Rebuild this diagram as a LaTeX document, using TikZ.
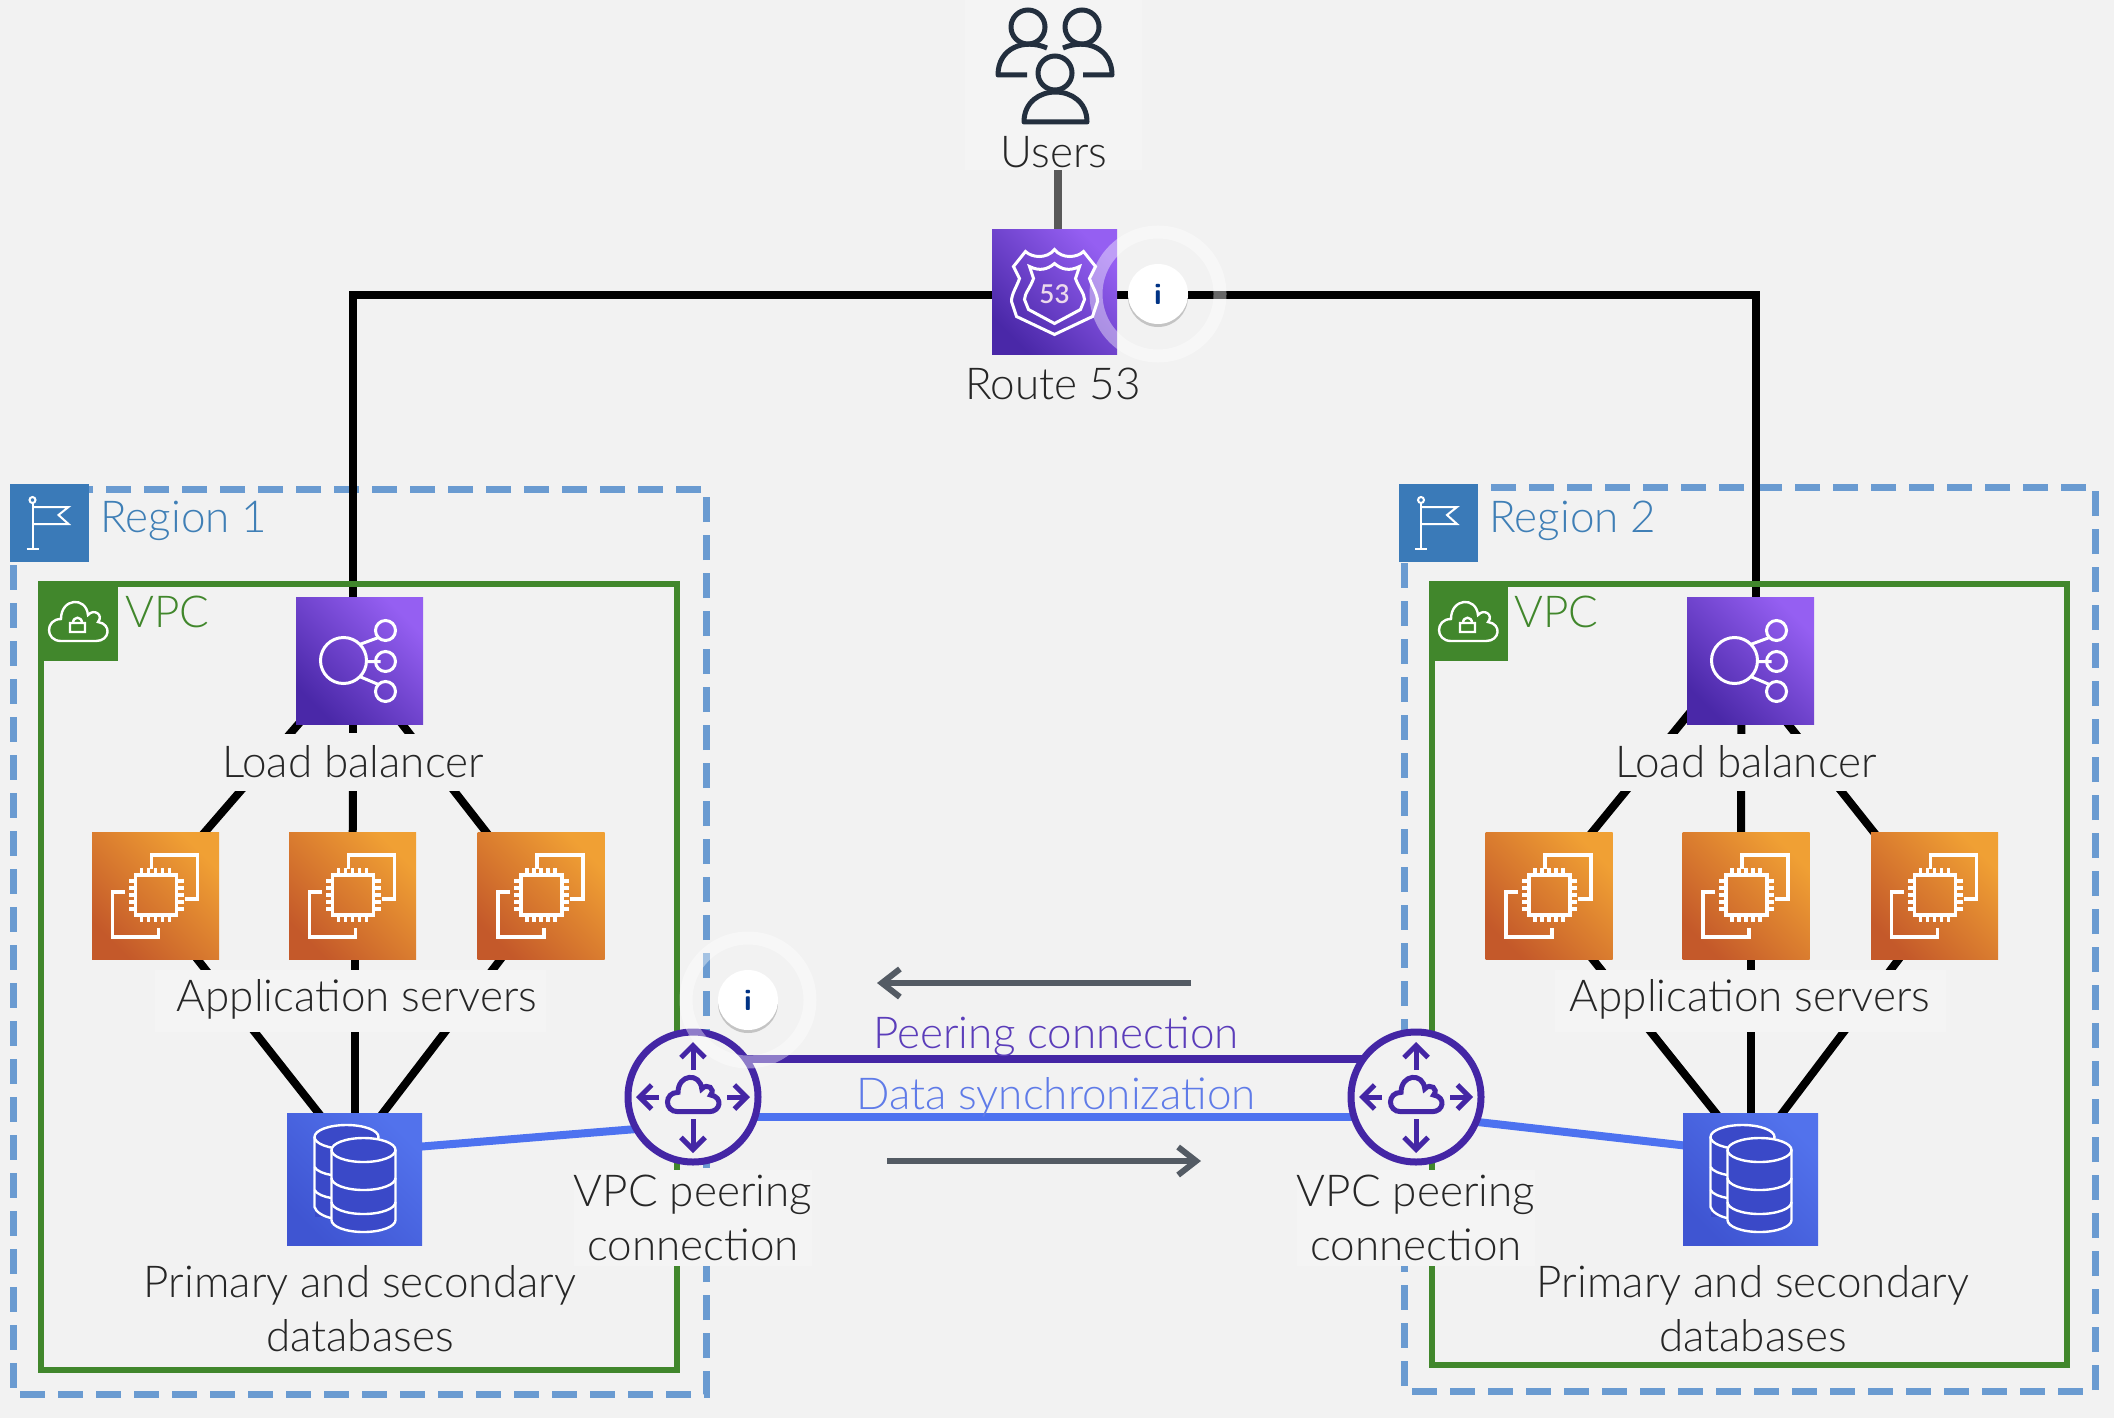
\documentclass[tikz,border=0pt]{standalone}
\usepackage{fontspec}
\setmainfont{Lato Light}
\usetikzlibrary{arrows.meta,backgrounds,shadows}

\definecolor{pagebg}{HTML}{F2F2F2}
\definecolor{labelbg}{HTML}{F4F4F4}
\definecolor{regionc}{HTML}{6A9BD1}
\definecolor{regiontag}{HTML}{3A7AB8}
\definecolor{regiontxt}{HTML}{3F7FB6}
\definecolor{vpcc}{HTML}{41872C}
\definecolor{peerc}{HTML}{4426A5}
\definecolor{peertxt}{HTML}{5B3DBA}
\definecolor{datac}{HTML}{4D72F0}
\definecolor{datatxt}{HTML}{5F7BE8}
\definecolor{arrowc}{HTML}{545B64}
\definecolor{usersc}{HTML}{232F3E}
\definecolor{purpledark}{HTML}{4A28A8}
\definecolor{purplelight}{HTML}{955FF2}
\definecolor{srvdark}{HTML}{C4592A}
\definecolor{srvlight}{HTML}{F0A034}
\definecolor{dbdark}{HTML}{3F55D2}
\definecolor{dblight}{HTML}{5272EC}
\definecolor{dbinner}{HTML}{3A49C8}

\tikzset{
  lbl/.style={font=\fontsize{22}{27}\selectfont,align=center,inner sep=0pt,text=black!85},
  lblbg/.style={lbl,fill=pagebg,minimum height=28.5pt},
  purplebox/.style={top color=purplelight,bottom color=purpledark,shading angle=-45,minimum size=63.5pt,inner sep=0pt},
  srvbox/.style={top color=srvlight,bottom color=srvdark,shading angle=-45,minimum size=63.5pt,inner sep=0pt},
  dbbox/.style={top color=dblight,bottom color=dbdark,shading angle=-45,minimum width=67.5pt,minimum height=66pt,inner sep=0pt},
  tagbox/.style={minimum width=39.5pt,minimum height=39pt,inner sep=0pt},
  peernode/.style={circle,draw=peerc,line width=3.5pt,fill=pagebg,minimum size=65pt,inner sep=0pt},
  infonode/.style={circle,fill=white,minimum size=30pt,inner sep=0pt,font=\sffamily\bfseries\fontsize{15}{15}\selectfont,text=blue!40!black!80!cyan,drop shadow={shadow xshift=0pt,shadow yshift=-1.5pt,opacity=.4}},
  inforing/.style={draw=white,opacity=.4,line width=6.5pt},
  wire/.style={black,line width=4pt},
  regionline/.style={draw=regionc,line width=3.5pt,dash pattern=on 12.5pt off 6.5pt},
  vpcline/.style={draw=vpcc,line width=3pt},
  flowarrow/.style={draw=arrowc,line width=3pt,-{Straight Barb[length=9pt,width=14pt,line width=3pt]}},
  peerarrow/.style={draw=peerc,line width=2.5pt,-{Straight Barb[length=6pt,width=12pt,line width=2.5pt]}},
  iconline/.style={draw=white,line width=1.5pt},
  dbline/.style={iconline,line width=1.2pt},
  flagicon/.pic={
    \draw[iconline,line width=1pt] (-17,-20) -- (-17,26) (-23,26) -- (-11,26);
    \draw[iconline,line width=1pt] (-17,-23) circle[radius=3];
    \draw[iconline,line width=1pt] (-17,-16) -- (19,-16) -- (9,-8) -- (19,1) -- (-17,1);
  },
  cloudicon/.pic={
    \draw[pic actions] (-17,19) .. controls (-33,19) and (-33,-3) .. (-17,-3)
      .. controls (-17,-24) and (8,-26) .. (10,-7) .. controls (16,-14) and (26,-7) .. (20,0)
      .. controls (34,2) and (32,19) .. (18,19) -- cycle;
  },
  vpcicon/.pic={
    \pic[draw=white,line width=1.2pt] {cloudicon};
    \draw[iconline,line width=1.2pt] (-8,1) rectangle (7,10) (-5,1) .. controls (-5,-6) and (4,-6) .. (4,1);
  },
  routeicon/.pic={
    \draw[iconline] (-29,-40) .. controls (-23,-34) and (-8,-32) .. (0,-42) .. controls (8,-32) and (23,-34) .. (29,-40)
      -- (41,-25) -- (35,-13) .. controls (38,-4) and (43,2) .. (43,10) -- (38,25) -- (0,43) -- (-38,25) -- (-43,10)
      .. controls (-43,2) and (-38,-4) .. (-35,-13) -- (-41,-25) -- cycle;
    \draw[iconline] (-25,-25) .. controls (-15,-20) and (-7,-22) .. (0,-28) .. controls (7,-22) and (15,-20) .. (25,-25)
      -- (21,-13) .. controls (24,-4) and (30,2) .. (30,8) -- (26,18) -- (0,32) -- (-26,18) -- (-30,8)
      .. controls (-30,2) and (-24,-4) .. (-21,-13) -- cycle;
  },
  lbicon/.pic={
    \draw[iconline] (-16,0) circle[radius=23];
    \foreach \py in {-30,1,31} {\draw[iconline] (26,\py) circle[radius=10];}
    \draw[iconline] (0,-16) -- (19,-23) (7,1) -- (21,1) (0,16) -- (19,24);
  },
  chipicon/.pic={
    \draw[iconline,line width=1.8pt] (-4,-27) -- (-4,-41) -- (42,-41) -- (42,3) -- (29,3);
    \draw[iconline,line width=1.8pt] (-31,-4) -- (-43,-4) -- (-43,41) -- (3,41) -- (3,32);
    \draw[iconline,line width=1.8pt] (-20,-21) rectangle (21,19);
    \foreach \pq in {-14,-7,0,7,14} {
      \draw[iconline,line width=1.6pt] (\pq,-21) -- (\pq,-28) (\pq,19) -- (\pq,26) (-20,\pq-1) -- (-27,\pq-1) (21,\pq-1) -- (28,\pq-1);
    }
  },
  dbicon/.pic={
    \fill[dbinner] (-8,-42) ellipse[x radius=32,y radius=12];
    \fill[dbinner] (-40,-42) rectangle (-10,38);
    \draw[dbline] (-8,-42) ellipse[x radius=32,y radius=12];
    \draw[dbline] (-40,-42) -- (-40,28) .. controls (-39,33) and (-30,38) .. (-23,39);
    \draw[dbline] (-40,-12) .. controls (-38,-8) and (-30,-5) .. (-23,-4) (-40,11) .. controls (-38,15) and (-30,18) .. (-23,19);
    \fill[dbinner] (-23,-29) rectangle (41,41);
    \fill[dbinner] (9,41) ellipse[x radius=32,y radius=12];
    \fill[dbinner] (9,-29) ellipse[x radius=32,y radius=12];
    \draw[dbline] (9,-29) ellipse[x radius=32,y radius=12];
    \draw[dbline] (-23,-29) -- (-23,41) arc[start angle=180,end angle=0,x radius=32,y radius=12] -- (41,-29);
    \draw[dbline] (-23,-1) arc[start angle=180,end angle=0,x radius=32,y radius=12];
    \draw[dbline] (-23,23) arc[start angle=180,end angle=0,x radius=32,y radius=12];
  },
  peericon/.pic={
    \pic[draw=peerc,line width=2.5pt,scale=.88] at (0,-2) {cloudicon};
    \draw[peerarrow] (0,-27) -- (0,-55);
    \draw[peerarrow] (0,22) -- (0,56);
    \draw[peerarrow] (-34,0) -- (-57,0);
    \draw[peerarrow] (34,0) -- (57,0);
  },
  usersicon/.pic={
    \draw[usersc,line width=2.5pt] (-26,27) circle[radius=17] (28,27) circle[radius=17] (1,73) circle[radius=17];
    \draw[usersc,line width=2.5pt,line join=round] (-7,48) .. controls (-30,38) and (-56,48) .. (-56,75) -- (-27,75);
    \draw[usersc,line width=2.5pt,line join=round] (9,48) .. controls (32,38) and (58,48) .. (58,75) -- (29,75);
    \draw[usersc,line width=2.5pt,line join=round] (-30,122) .. controls (-30,82) and (33,82) .. (33,122) -- cycle;
  }
}

\begin{document}
\begin{tikzpicture}[x=.5pt,y=-.5pt]
  \useasboundingbox (0,0) rectangle (2114,1418);

  % top
  \node[fill=labelbg,minimum width=88.5pt,minimum height=85pt,inner sep=0pt] (usr) at (1053.5,85) {};
  \pic at (1054,0) {usersicon};
  \node[lbl] (usrTxt) at (1054,152) {Users};
  \node[purplebox,minimum size=62.5pt] (rt) at (1054.5,291.5) {};
  \pic at (rt) {routeicon};
  \node[font=\fontsize{13}{13}\selectfont\bfseries,text=white!85!violet,inner sep=0pt] (rtNum) at (1054.5,294) {53};
  \node[lbl] (rtTxt) at (1053,384) {Route 53};
  \coordinate (rtc) at (1058,295);

  % region tags
  \node[tagbox,fill=regiontag] (tagA) at (49.5,523) {};
  \pic at (tagA) {flagicon};
  \node[lbl,text=regiontxt,anchor=west] (tagAtxt) at (100,521) {Region 1};
  \node[tagbox,fill=regiontag] (tagB) at (1438,523) {};
  \pic at (tagB) {flagicon};
  \node[lbl,text=regiontxt,anchor=west] (tagBtxt) at (1489,521) {Region 2};
  \node[tagbox,fill=vpcc] (vpcA) at (78,622) {};
  \pic at (vpcA) {vpcicon};
  \node[lbl,text=vpcc,anchor=west] (vpcAtxt) at (125,612) {VPC};
  \node[tagbox,fill=vpcc] (vpcB) at (1468,622) {};
  \pic at (vpcB) {vpcicon};
  \node[lbl,text=vpcc,anchor=west] (vpcBtxt) at (1514,612) {VPC};

  % region 1
  \node[purplebox] (lbA) at (359.5,660.5) {};
  \pic at (lbA) {lbicon};
  \node[lblbg] (lbTxtA) at (353,762) {Load balancer};
  \foreach \nm/\cx in {srvAa/155.5,srvAb/352.5,srvAc/541} {
    \node[srvbox] (\nm) at (\cx,896) {};
    \pic at (\nm) {chipicon};
  }
  \node[lblbg,fill=labelbg,minimum width=195.5pt,minimum height=31pt] (appTxtA) at (350.5,1001) {};
  \node[lbl] (appLblA) at (357,999) {Application servers};
  \node[dbbox] (dbA) at (354.5,1179) {};
  \pic at (dbA) {dbicon};
  \node[lbl] (dbTxtA) at (360,1309) {Primary and secondary\\databases};
  \node[peernode] (peerA) at (693,1097) {};
  \pic at (peerA) {peericon};
  \node[lbl,fill=labelbg,minimum width=117pt,minimum height=48pt] (peerTxtA) at (693,1218) {VPC peering\\connection};

  % region 2
  \node[purplebox] (lbB) at (1750.5,660.5) {};
  \pic at (lbB) {lbicon};
  \node[lblbg] (lbTxtB) at (1746,762) {Load balancer};
  \foreach \nm/\cx in {srvBa/1549,srvBb/1746,srvBc/1934.5} {
    \node[srvbox] (\nm) at (\cx,896) {};
    \pic at (\nm) {chipicon};
  }
  \node[lblbg,fill=labelbg,minimum width=195.5pt,minimum height=31pt] (appTxtB) at (1750,1001) {};
  \node[lbl] (appLblB) at (1750,999) {Application servers};
  \node[dbbox] (dbB) at (1750.5,1179) {};
  \pic at (dbB) {dbicon};
  \node[lbl] (dbTxtB) at (1753,1309) {Primary and secondary\\databases};
  \node[peernode] (peerB) at (1416,1097) {};
  \pic at (peerB) {peericon};
  \node[lbl,fill=labelbg,minimum width=117pt,minimum height=48pt] (peerTxtB) at (1416,1218) {VPC peering\\connection};

  % peering labels and arrows
  \node[lbl,text=peertxt] (peerLbl) at (1056,1037) {Peering connection};
  \node[lbl,text=datatxt] (dataLbl) at (1056,1097) {Data synchronization};
  \coordinate (arrLa) at (1191,983);
  \coordinate (arrLb) at (877,983);
  \coordinate (arrRa) at (887,1161);
  \coordinate (arrRb) at (1201,1161);
  \draw[flowarrow] (arrLa) -- (arrLb);
  \draw[flowarrow] (arrRa) -- (arrRb);

  % info marks
  \node[infonode] (infoA) at (1158,294) {i};
  \draw[inforing] (infoA) circle[radius=62];
  \node[infonode] (infoB) at (748,1000) {i};
  \draw[inforing] (infoB) circle[radius=62];

  \begin{scope}[on background layer]
    \fill[pagebg] (0,0) rectangle (2114,1418);
    \draw[regionline] (13,489) rectangle (706,1394);
    \draw[regionline] (1404,487) rectangle (2095,1391);
    \draw[draw=black!65,line width=4pt] (usr.south -| rtc) -- (rtc);
    \draw[wire] (rtc) -| (lbTxtA);
    \draw[wire] (rtc) -| ([xshift=2.5pt]lbB.center);
    \draw[vpcline] (41,584) rectangle (677,1370);
    \draw[vpcline] (1432,584) rectangle (2067,1365);

    \draw[wire] ([xshift=-3pt]lbA.center) -- ([xshift=-3pt]srvAa.center);
    \draw[wire] (lbTxtA) -- (srvAb);
    \draw[wire] ([xshift=-3.5pt]lbA.center) -- ([xshift=-2.5pt]srvAc.center);
    \draw[wire] ([xshift=-4pt]srvAa.center) -- ([xshift=8pt]dbA.center);
    \draw[wire] (dbA) -- (srvAb -| dbA);
    \draw[wire] ([xshift=4pt]srvAc.center) -- ([xshift=-11pt]dbA.center);

    \draw[wire] ([xshift=-9pt]lbB.center) -- ([xshift=-4.5pt]srvBa.center);
    \draw[wire] ([xshift=-4.5pt]lbB.center) -- ([xshift=-2.5pt]srvBb.center);
    \draw[wire] ([xshift=-6.5pt]lbB.center) -- ([xshift=-5pt]srvBc.center);
    \draw[wire] ([xshift=-3.5pt]srvBa.center) -- ([xshift=9pt]dbB.center);
    \draw[wire] (dbB) -- (srvBb -| dbB);
    \draw[wire] ([xshift=6pt]srvBc.center) -- ([xshift=-9pt]dbB.center);

    \draw[draw=datac,line width=4pt] ([yshift=13.5pt]dbA.center) -- ([yshift=-13.7pt]peerA.center);
    \draw[draw=datac,line width=4pt] ([yshift=-9pt]peerB.center) -- ([yshift=13pt]dbB.center);
    \draw[draw=peerc,line width=4pt] ([yshift=19pt]peerA.center) -- ([yshift=19pt]peerB.center);
    \draw[draw=datac,line width=4pt] ([yshift=-10pt]peerA.center) -- ([yshift=-10pt]peerB.center);
  \end{scope}
\end{tikzpicture}
\end{document}
